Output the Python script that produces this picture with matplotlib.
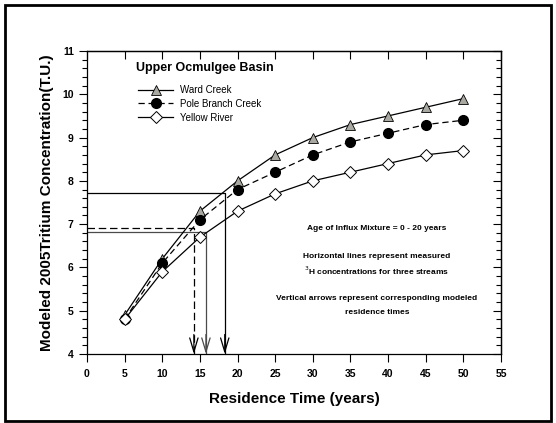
import matplotlib
matplotlib.use("Agg")
import matplotlib.pyplot as plt
from matplotlib.patches import Rectangle
from matplotlib.ticker import MultipleLocator, NullFormatter

plt.rcParams['font.family'] = ['Liberation Sans', 'DejaVu Sans']

years = [5, 10, 15, 20, 25, 30, 35, 40, 45, 50]
ward_creek = [4.9, 6.2, 7.3, 8.0, 8.6, 9.0, 9.3, 9.5, 9.7, 9.9]
pole_branch = [4.8, 6.1, 7.1, 7.8, 8.2, 8.6, 8.9, 9.1, 9.3, 9.4]
yellow_river = [4.8, 5.9, 6.7, 7.3, 7.7, 8.0, 8.2, 8.4, 8.6, 8.7]

# measured concentrations and modeled residence times
measured = [7.73, 6.9, 6.82]
res_times = [18.3, 14.2, 15.8]
meas_styles = ['-', '--', '-']
meas_colors = ['black', 'black', '#4a4a4a']

W, H = 556, 423
fig = plt.figure(figsize=(W / 100, H / 100), dpi=100)
L, R, T, B = 87, 501, 51, 354
ax = fig.add_axes([L / W, 1 - B / H, (R - L) / W, (B - T) / H])

ax.plot(years, ward_creek, '-', color='black', lw=0.9, marker='^', ms=7,
        mfc='#a9a9a1', mec='black', mew=0.6, label='Ward Creek', zorder=4)
ax.plot(years, pole_branch, '--', dashes=(5, 3), color='black', lw=0.9, marker='o', ms=7,
        mfc='black', mec='black', label='Pole Branch Creek', zorder=4)
ax.plot(years, yellow_river, '-', color='black', lw=0.9, marker='D', ms=6.5,
        mfc='white', mec='black', mew=0.7, label='Yellow River', zorder=5)

for m, t, ls, c in zip(measured, res_times, meas_styles, meas_colors):
    if ls == '--':
        ax.plot([0, t, t], [m, m, 4.0], color=c, lw=0.9, dashes=(6, 3), zorder=2)
    else:
        ax.plot([0, t, t], [m, m, 4.0], color=c, lw=0.9, zorder=2)
    ax.annotate('', xy=(t, 4.0), xytext=(t, 4.45),
                arrowprops=dict(arrowstyle='->,head_length=1.0,head_width=0.3',
                                color=c, lw=0.9, shrinkA=0, shrinkB=0),
                zorder=2)

ax.set_xlim(0, 55)
ax.set_ylim(4, 11)
ax.xaxis.set_major_locator(MultipleLocator(5))
ax.yaxis.set_major_locator(MultipleLocator(1))
ax.yaxis.set_minor_locator(MultipleLocator(0.2))
ax.tick_params(axis='both', which='both', labelsize=7.5, width=0.8, direction='out',
               top=False, right=False)
ax.tick_params(axis='both', which='major', length=6)
ax.tick_params(axis='x', which='major', pad=5)
ax.tick_params(axis='y', which='minor', length=3.5)
for lab in ax.get_xticklabels() + ax.get_yticklabels():
    lab.set_fontweight('bold')
for s in ax.spines.values():
    s.set_linewidth(0.9)

# inward ticks on top and right
secx = ax.secondary_xaxis('top')
secx.xaxis.set_major_locator(MultipleLocator(5))
secx.tick_params(axis='x', which='major', direction='in', length=6, width=0.8, labeltop=False)
secx.xaxis.set_major_formatter(NullFormatter())
secy = ax.secondary_yaxis('right')
secy.yaxis.set_major_locator(MultipleLocator(1))
secy.yaxis.set_minor_locator(MultipleLocator(0.2))
secy.tick_params(axis='y', which='major', direction='in', length=6, width=0.8, labelright=False)
secy.tick_params(axis='y', which='minor', direction='in', length=3.5, width=0.8)
secy.yaxis.set_major_formatter(NullFormatter())
for s in list(secx.spines.values()) + list(secy.spines.values()):
    s.set_linewidth(0.9)

ax.set_xlabel('Residence Time (years)', fontsize=11, fontweight='bold', labelpad=9)
ax.set_ylabel('Modeled 2005Tritium Concentration(T.U.)', fontsize=11, fontweight='bold', labelpad=6)

ax.text(6.5, 10.6, 'Upper Ocmulgee Basin', fontsize=9, fontweight='bold', va='center', ha='left')
ax.legend(loc='center left', bbox_to_anchor=(6.8 / 55, (9.78 - 4) / 7), frameon=False, fontsize=7,
          handlelength=3.6, labelspacing=0.38, handletextpad=0.75, borderaxespad=0, borderpad=0)

tx = 38.5
ax.text(tx, 6.89, 'Age of Influx Mixture = 0 - 20 years', fontsize=6, fontweight='bold', ha='center', va='center')
ax.text(tx, 6.26, 'Horizontal lines represent measured', fontsize=6, fontweight='bold', ha='center', va='center')
ax.text(tx, 5.93, '$^3$H concentrations for three streams', fontsize=6, fontweight='bold', ha='center', va='center')
ax.text(tx, 5.29, 'Vertical arrows represent corresponding modeled', fontsize=6, fontweight='bold', ha='center', va='center')
ax.text(tx, 4.97, 'residence times', fontsize=6, fontweight='bold', ha='center', va='center')

fig.patches.append(Rectangle((5 / W, 1 - 421 / H), (551 - 5) / W, (421 - 5) / H,
                             transform=fig.transFigure, fill=False, edgecolor='black', lw=2))

fig.savefig('out.png', dpi=100)
